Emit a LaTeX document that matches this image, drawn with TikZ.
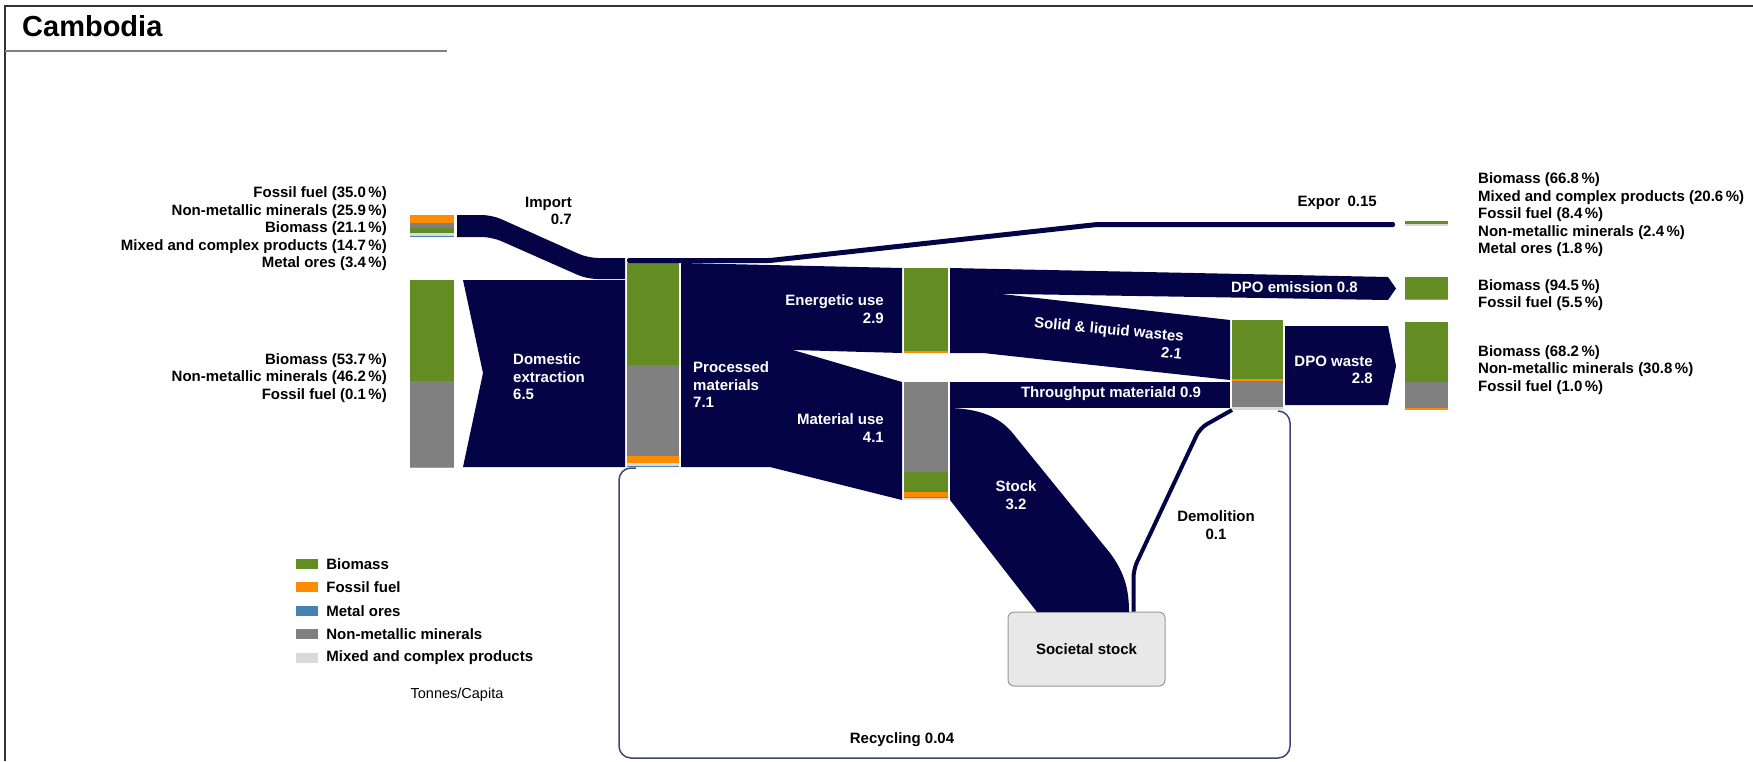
\documentclass[tikz,border=0pt]{standalone}
\usepackage{fontspec}
\setmainfont{Liberation Sans}
\usepackage{tikz}
\usetikzlibrary{positioning,calc}

\definecolor{navy}{RGB}{3,3,70}
\definecolor{bio}{RGB}{99,140,35}
\definecolor{fos}{RGB}{255,140,0}
\definecolor{met}{RGB}{70,130,180}
\definecolor{nmm}{RGB}{128,128,128}
\definecolor{mix}{RGB}{217,217,217}

\begin{document}
\begin{tikzpicture}[x=1pt, y=-1pt,
    lbl/.style={font=\fontsize{15}{17.5}\selectfont\bfseries, inner sep=0pt},
    flowlbl/.style={lbl, text=white},
    barbox/.style={inner sep=0pt, outer sep=0pt, anchor=north west},
    flow/.style={fill=navy},
    legbox/.style={minimum width=22, minimum height=10, inner sep=0pt}
    ]
        \useasboundingbox (0,0) rectangle (1753,761);

        %Frame and title
        \draw[line width=2, black!80] (5,761) -- (5,6) -- (1753,6);
        \node[anchor=base west, inner sep=0pt, font=\fontsize{29}{32}\selectfont\bfseries]
            (title) at (22,36) {Cambodia};
        \draw[gray, line width=1.2] (5,51) -- (447,51);

        %Bars
        \node[barbox, minimum width=44, minimum height=22] (ibar) at (410,215) {};
        \foreach \c/\a/\b in {fos/215/222.7, nmm/222.7/228.4, bio/228.4/233, mix/233/236.2, met/236.2/237}
            \fill[\c] (410,\a) rectangle (454,\b);
        \node[barbox, minimum width=44, minimum height=187] (dbar) at (410,280) {};
        \foreach \c/\a/\b in {bio/280/380.5, nmm/380.5/466.8, fos/466.8/467}
            \fill[\c] (410,\a) rectangle (454,\b);
        \node[barbox, minimum width=52, minimum height=204] (pbar) at (627,263) {};
        \foreach \c/\a/\b in {bio/263/365, nmm/365/456, fos/456/463, mix/463/465.5, met/465.5/467}
            \fill[\c] (627,\a) rectangle (679,\b);
        \node[barbox, minimum width=44, minimum height=85] (ebar) at (904,268) {};
        \foreach \c/\a/\b in {bio/268/351, fos/351/353}
            \fill[\c] (904,\a) rectangle (948,\b);
        \node[barbox, minimum width=44, minimum height=118] (mbar) at (904,382) {};
        \foreach \c/\a/\b in {nmm/382/472, bio/472/492, fos/492/497, met/497/498, mix/498/500}
            \fill[\c] (904,\a) rectangle (948,\b);
        \node[barbox, minimum width=51, minimum height=90] (wbar) at (1232,320) {};
        \foreach \c/\a/\b in {bio/320/379, fos/379/381, nmm/381/407, mix/407/410}
            \fill[\c] (1232,\a) rectangle (1283,\b);
        \node[barbox, minimum width=43, minimum height=5] (xout) at (1405,221) {};
        \foreach \c/\a/\b in {bio/221/224, mix/224/226}
            \fill[\c] (1405,\a) rectangle (1448,\b);
        \node[barbox, minimum width=43, minimum height=23] (eout) at (1405,277) {};
        \foreach \c/\a/\b in {bio/277/298.7, fos/298.7/300}
            \fill[\c] (1405,\a) rectangle (1448,\b);
        \node[barbox, minimum width=43, minimum height=88] (wout) at (1405,322) {};
        \foreach \c/\a/\b in {bio/322/382, nmm/382/408, fos/408/410}
            \fill[\c] (1405,\a) rectangle (1448,\b);

        %Societal stock
        \node[lbl, draw=gray!80, fill=gray!18, rounded corners=6, line width=1,
            minimum width=157, minimum height=74] (sstock) at (1086.5,649) {Societal stock};

        %Flows
        \fill[flow] ($(ibar.north east)+(3,0)$) [rounded corners=10] -- (492,215) -- (588,258)
            [sharp corners] -- (625,258) -- (625,279) [rounded corners=10] -- (587,279)
            -- (492,237) [sharp corners] -- ($(ibar.south east)+(3,0)$) -- cycle;
        \fill[flow] (463,280) -- (625,280) -- (625,467) -- (463,467) -- (483,373) -- cycle;
        \fill[flow, rounded corners=2] (627,258) -- (770,258) -- (1097,222) -- (1395,222)
            -- (1395,227) -- (1097,227) -- (770,263) -- (627,263) -- cycle;
        \fill[flow] (681,263) -- (902,268) -- (902,353) -- (793,350) -- (681,350) -- cycle;
        \fill[flow] (681,350) -- (793,350) -- (902,382) -- (902,500) -- (770,467) -- (681,467) -- cycle;
        \fill[flow] (950,268) -- (1388,277) -- (1396,288.5) -- (1388,300) -- (950,293) -- cycle;
        \fill[flow] (950,293) -- (993,293) -- (1230,320) -- (1230,380) -- (983,353) -- (950,353) -- cycle;
        \fill[flow] (950,382) -- (1230,382) -- (1230,408) -- (950,408) -- cycle;
        \fill[flow] (1285,326) -- (1388,326) -- (1396,366) -- (1388,405) -- (1285,405) -- cycle;
        \fill[flow] (950,408) .. controls (985,409) and (1003,420) .. (1015,436) -- (1110,553)
            .. controls (1124,572) and (1129,588) .. (1129,612) -- (1037,612) -- (950,500) -- cycle;
        \draw[navy, line width=4, rounded corners=8] ($(sstock.north east)+(-32,0)$) -- ++(0,-42)
            -- (1200,428) -- (wbar.south west);
        \draw[navy!75, line width=1.5, rounded corners=12] ($(wbar.south east)+(-5,1)$) -| (1290,758)
            -| (619,468) -- ($(pbar.south west)+(9,1)$);

        %Flow labels
        \node[flowlbl, align=left, anchor=west] (dlbl) at (513,377) {Domestic\\extraction\\6.5};
        \node[flowlbl, align=left, anchor=west] (plbl) at (693,385) {Processed\\materials\\7.1};
        \node[flowlbl, align=right, anchor=east] (elbl) at (884,309) {Energetic use\\2.9};
        \node[flowlbl, align=right, anchor=east] (mlbl) at (884,428) {Material use\\4.1};
        \node[lbl, align=right, anchor=east] (implbl) at (572,211) {Import\\0.7};
        \node[lbl, anchor=east] (xplbl) at (1377,203) {Expor\enspace0.15};
        \node[flowlbl, anchor=east] (emlbl) at (1358,287) {DPO emission 0.8};
        \node[flowlbl, align=right, anchor=east, rotate=-5.5] (swlbl) at (1183,345)
            {Solid \& liquid wastes\\2.1};
        \node[flowlbl] (tplbl) at (1111,394) {Throughput materiald 0.9};
        \node[flowlbl, align=right, anchor=east] (wlbl) at (1373,370) {DPO waste\\2.8};
        \node[flowlbl, align=center] (slbl) at (1016,495) {Stock\\3.2};
        \node[lbl, align=center] (dmlbl) at (1216,525) {Demolition\\0.1};
        \node[lbl] (rclbl) at (902,740) {Recycling 0.04};

        %Shares
        \node[lbl, align=right, anchor=east] (ishare) at (387,229)
            {Fossil fuel (35.0\,\%)\\Non-metallic minerals (25.9\,\%)\\Biomass (21.1\,\%)\\Mixed and complex products (14.7\,\%)\\Metal ores (3.4\,\%)};
        \node[lbl, align=right, anchor=east] (dshare) at (387,378)
            {Biomass (53.7\,\%)\\Non-metallic minerals (46.2\,\%)\\Fossil fuel (0.1\,\%)};
        \node[lbl, align=left, anchor=west] (xshare) at (1478,215)
            {Biomass (66.8\,\%)\\Mixed and complex products (20.6\,\%)\\Fossil fuel (8.4\,\%)\\Non-metallic minerals (2.4\,\%)\\Metal ores (1.8\,\%)};
        \node[lbl, align=left, anchor=west] (eshare) at (1478,295)
            {Biomass (94.5\,\%)\\Fossil fuel (5.5\,\%)};
        \node[lbl, align=left, anchor=west] (wshare) at (1478,370)
            {Biomass (68.2\,\%)\\Non-metallic minerals (30.8\,\%)\\Fossil fuel (1.0\,\%)};

        %Legend
        \foreach \c/\t/\y in {bio/Biomass/564, fos/Fossil fuel/587, met/Metal ores/611,
                nmm/Non-metallic minerals/634, mix/Mixed and complex products/658}{
            \node[legbox, fill=\c] (lg\c) at (307,\y) {};
            \node[lbl, right=8pt of lg\c] (lt\c) {\t};
        }
        \node[inner sep=0pt, font=\fontsize{14.5}{17}\selectfont] (unit) at (457,695) {Tonnes/Capita};
    \end{tikzpicture}
\end{document}
